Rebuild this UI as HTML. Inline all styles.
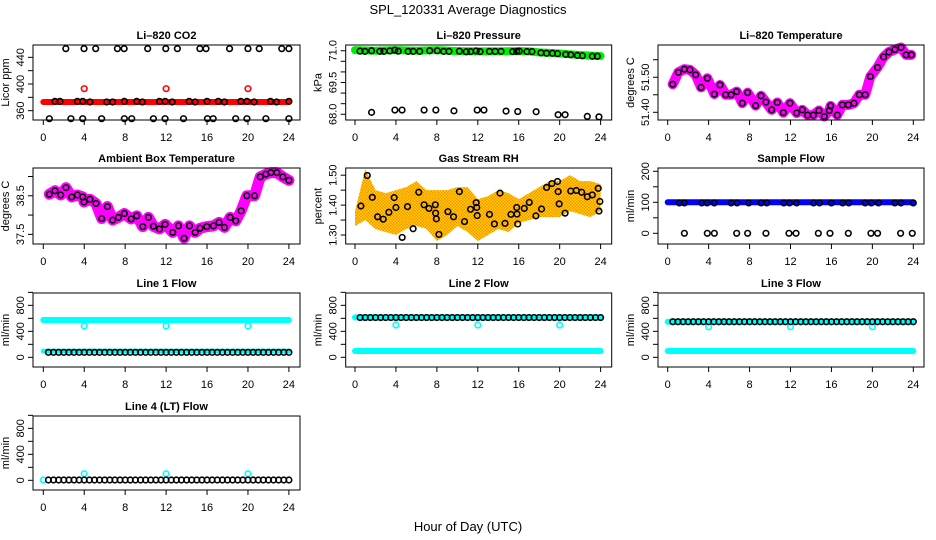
<!DOCTYPE html>
<html><head><meta charset="utf-8"><style>
html,body{margin:0;padding:0;background:#fff;}
svg{display:block;font-family:"Liberation Sans",Arial,sans-serif;}
</style></head><body>
<svg id="chart" width="936" height="540" viewBox="0 0 936 540" xmlns="http://www.w3.org/2000/svg">
<text x="468" y="14" font-size="13" text-anchor="middle">SPL_120331  Average Diagnostics</text>
<text x="468" y="531" font-size="13" text-anchor="middle">Hour of Day (UTC)</text>
</svg>
<script>
// ---- shared x ticks ----
const xTicks = [0,4,8,12,16,20,24];
const flowHours = [0.5,1,1.5,2,2.5,3,3.5,4,4.5,5,5.5,6,6.5,7,7.5,8,8.5,9,9.5,10,10.5,11,11.5,12,12.5,13,13.5,14,14.5,15,15.5,16,16.5,17,17.5,18,18.5,19,19.5,20,20.5,21,21.5,22,22.5,23,23.5,24];
const bandHours = [0,24];
const outlierHours = [4,12,20];

// ---- CO2 ----
const co2BandVals = [373,373];
const co2OutVals = [393,393,393];
const co2MidHours = [1.14,1.63,3.33,3.85,4.56,6.2,6.78,7.92,9.13,9.68,11.35,11.9,12.6,14.25,14.84,16,17.1,17.7,19.3,19.9,20.6,22.2,22.8,24];
const co2MidVals = [374,374,374,374,373,373,373,374,374,373,374,374,373,374,373,374,374,373,374,374,373,374,373,374];
const co2HiHours = [2.2,3.98,5.12,7.24,7.9,10.2,11.97,13.1,15.3,15.9,18.2,20,21.1,23.3,24];
const co2HiVals = [453,453,453,453,453,453,453,453,453,453,453,453,453,453,453];
const co2LoHours = [0.59,2.7,3.85,5.7,7.92,8.64,10.76,11.9,13.7,16.04,16.6,18.8,19.9,21.75,24];
const co2LoVals = [348,348,348,348,348,348,348,348,348,348,348,348,348,348,348];

// ---- Pressure ----
const presBandHours = [0,2,4,6,8,10,12,14,16,17,18,19,20,21,22,23,24];
const presBandVals = [71.03,71.0,71.03,71.0,71.03,70.98,70.97,70.97,70.98,70.97,70.92,70.9,70.87,70.83,70.8,70.77,70.75];
const presHours = [0.49,0.97,1.62,2.43,2.82,3.41,3.89,4.22,5.19,5.68,6.32,7.3,8.04,8.66,9.18,10.2,10.87,11.29,11.84,12.22,13.14,13.69,14.27,15.41,15.8,16.05,16.8,17.29,18.17,18.72,19.3,19.79,20.6,21.08,21.73,22.22,23.19,23.68];
const presVals = [70.98,70.97,71.0,70.97,70.97,70.99,71.03,70.98,70.97,70.97,70.97,71.0,71.0,70.97,70.97,70.98,70.95,70.96,70.99,70.96,70.97,70.97,70.97,70.96,70.97,70.98,70.96,70.96,70.9,70.88,70.88,70.86,70.83,70.81,70.78,70.76,70.74,70.74];
const presLoHours = [1.62,3.9,4.6,6.75,7.9,9.67,11.94,12.6,14.76,15.9,17.7,19.85,20.53,22.7,23.84];
const presLoVals = [68.09,68.2,68.2,68.2,68.2,68.16,68.2,68.2,68.15,68.13,68.12,67.98,67.98,67.9,67.88];

// ---- Li-820 Temperature ----
const tempHours = [0.49,1.04,1.63,2.18,2.74,3.26,3.87,4.56,5.11,5.67,6.19,6.74,7.29,7.81,8.6,9.12,9.6,10.16,10.71,11.3,11.95,12.6,13.15,13.67,14.23,14.78,15.3,15.79,15.92,16.57,17.06,17.65,18.2,18.72,19.3,19.8,20.5,21.1,21.62,22.2,22.8,23.3,23.8];
const tempVals = [51.48,51.514,51.523,51.521,51.507,51.471,51.497,51.452,51.478,51.45,51.45,51.459,51.426,51.456,51.419,51.447,51.429,51.407,51.428,51.399,51.426,51.398,51.407,51.392,51.392,51.405,51.388,51.405,51.418,51.392,51.421,51.421,51.426,51.45,51.45,51.502,51.528,51.558,51.572,51.579,51.585,51.564,51.564];

// ---- Ambient ----
const ambHours = [0.59,1.14,1.7,2.22,2.77,3.33,3.85,3.98,4.56,5.15,5.71,6.26,6.78,7.34,7.92,8.58,9.13,9.72,10.27,10.76,11.35,11.9,12.65,13.21,13.76,14.28,14.84,15.32,15.98,16.63,17.18,17.7,18.26,18.81,19.33,19.89,20.64,21.2,21.75,22.24,22.82,23.41,24];
const ambVals = [38.54,38.63,38.52,38.71,38.47,38.52,38.47,38.34,38.41,38.3,37.91,38.22,37.87,37.94,38.04,37.9,37.98,37.7,37.94,37.71,37.64,37.76,37.55,37.72,37.4,37.72,37.55,37.66,37.7,37.72,37.81,37.68,37.94,37.85,38.11,38.5,38.5,38.99,39.06,39.1,39.1,38.99,38.9];

// ---- RH ----
const rhEnvHours = [0,1,2,3,4,5,6,7,8,9,10,11,12,13,14,15,16,17,18,19,20,21,22,23,24];
const rhUpper = [1.38,1.52,1.45,1.44,1.45,1.46,1.48,1.45,1.45,1.45,1.46,1.46,1.42,1.43,1.45,1.44,1.42,1.44,1.46,1.48,1.48,1.5,1.48,1.48,1.47];
const rhLower = [1.33,1.35,1.32,1.31,1.3,1.32,1.33,1.32,1.28,1.3,1.33,1.31,1.28,1.3,1.32,1.31,1.34,1.35,1.36,1.36,1.36,1.38,1.37,1.36,1.38];
const rhHours = [0.58,1.2,1.69,2.21,2.76,3.31,3.83,4.0,4.61,5.13,5.68,6.23,6.75,7.23,7.85,7.88,7.95,8.2,9.08,9.63,10.2,10.7,11.29,11.84,11.9,11.94,13.14,13.62,14.17,14.66,15.24,15.8,15.83,15.9,16.54,17.03,17.68,18.23,18.72,19.24,19.79,19.85,19.95,20.53,21.08,21.63,22.15,22.7,23.19,23.77,23.84,23.93];
const rhVals = [1.397,1.499,1.426,1.361,1.353,1.376,1.425,1.392,1.292,1.395,1.321,1.443,1.401,1.389,1.401,1.373,1.354,1.302,1.378,1.361,1.445,1.345,1.386,1.408,1.392,1.365,1.369,1.337,1.44,1.339,1.369,1.392,1.37,1.337,1.389,1.409,1.364,1.387,1.459,1.472,1.479,1.445,1.404,1.373,1.447,1.449,1.443,1.428,1.434,1.456,1.38,1.412];

// ---- Sample flow ----
const sfBandVals = [100,100];
const sfMidVals = [98,98,98,98,98,98,98,98,98,98,98,98,98,98,98,98,98,98,98,98,98,98,98,98];
const sfLoHours = [1.63,3.87,4.56,6.74,7.81,9.6,11.85,12.54,14.72,15.86,17.65,19.86,20.51,22.76,23.9];
const sfLoVals = [0,0,0,0,0,0,0,0,0,0,0,0,0,0,0];

// ---- Line flows ----
const l1HiBand = [574,574];
const l1LoBand = [95,95];
const l1Out = [482,482,482];
const l1Black = [77,77,77,77,77,77,77,77,77,77,77,77,77,77,77,77,77,77,77,77,77,77,77,77,77,77,77,77,77,77,77,77,77,77,77,77,77,77,77,77,77,77,77,77,77,77,77,77];
const l2HiBand = [615,615];
const l2LoBand = [97,97];
const l2Out = [497,497,497];
const l2Black = [612,612,612,612,612,612,612,612,612,612,612,612,612,612,612,612,612,612,612,612,612,612,612,612,612,612,612,612,612,612,612,612,612,612,612,612,612,612,612,612,612,612,612,612,612,612,612,612];
const l3HiBand = [548,548];
const l3LoBand = [97,97];
const l3Out = [470,470,470];
const l3Black = [548,548,548,548,548,548,548,548,548,548,548,548,548,548,548,548,548,548,548,548,548,548,548,548,548,548,548,548,548,548,548,548,548,548,548,548,548,548,548,548,548,548,548,548,548,548,548,548];
const l4Out = [101,101,101];
const l4Black = [5,5,5,5,5,5,5,5,5,5,5,5,5,5,5,5,5,5,5,5,5,5,5,5,5,5,5,5,5,5,5,5,5,5,5,5,5,5,5,5,5,5,5,5,5,5,5,5];
const l4Start = [0];
const l4StartVal = [5];

const NS = "http://www.w3.org/2000/svg";
const svg = document.getElementById('chart');
const colL = [33,345.7,658], colR = [300,611.7,924], colX0 = [43.3,355,667.7];
const rowT = [45,168,293,416], rowB = [120,244,367,490];

function mk(tag, attrs, parent){ const e=document.createElementNS(NS,tag); for(const k in attrs) e.setAttribute(k,attrs[k]); (parent||svg).appendChild(e); return e; }

function panel(name, c, r, ymin, ymax, yTicks, yLabels, ytitle){
  const g = mk('g',{});
  
  
  const L=colL[c], R=colR[c], T=rowT[r], B=rowB[r];
  const xs = h => colX0[c] + h*(245.6/24);
  const ys = v => B - (v-ymin)/(ymax-ymin)*(B-T);
  const t = mk('text',{x:(L+R)/2,y:T-6,'font-size':11,'font-weight':'bold','text-anchor':'middle'},g);
  t.textContent = name.title;
  return {g,L,R,T,B,xs,ys,yTicks,yLabels,ytitle};
}

function axes(p, title){
  const g = p.g;
  const ax = mk('g',{},g);
  
  
  mk('line',{x1:p.xs(0),x2:p.xs(24),y1:p.B,y2:p.B,stroke:'#000'},ax);
  xTicks.forEach(h=>{
    mk('line',{x1:p.xs(h),x2:p.xs(h),y1:p.B,y2:p.B+5,stroke:'#000'},ax);
    const tx=mk('text',{x:p.xs(h),y:p.B+21,'font-size':11,'text-anchor':'middle'},ax);
    tx.textContent=h;
  });
  const ay = mk('g',{},g);
  
  
  p.yTicks.forEach((v,i)=>{
    const y=p.ys(v);
    mk('line',{x1:p.L-5,x2:p.L,y1:y,y2:y,stroke:'#000'},ay);
    if(p.yLabels[i]){
      const tx=mk('text',{x:p.L-9,y:y,'font-size':11,'text-anchor':'middle',transform:`rotate(-90 ${p.L-9} ${y})`},ay);
      tx.textContent=p.yLabels[i];
    }
  });
  const yt=mk('text',{x:p.L-24,y:(p.T+p.B)/2,'font-size':11,'text-anchor':'middle',transform:`rotate(-90 ${p.L-24} ${(p.T+p.B)/2})`},g);
  
  
  yt.textContent=p.ytitle;
  const box=mk('rect',{x:p.L,y:p.T,width:p.R-p.L,height:p.B-p.T,fill:'none',stroke:'#000'},g);
  
  
}

function band(p, hs, vs, color, w, nm){
  const d = hs.map((h,i)=>(i?'L':'M')+p.xs(h)+' '+p.ys(vs[i])).join(' ');
  const e = mk('path',{d:d,fill:'none',stroke:color,'stroke-width':w,'stroke-linejoin':'round','stroke-linecap':'round'},p.g);
  
  
}
function pts(p, hs, vs, color, nm, rr, sw){
  const g = mk('g',{},p.g);
  
  
  hs.forEach((h,i)=>{
    const e=mk('circle',{cx:p.xs(h),cy:p.ys(vs[i]),r:rr||2.8,fill:'none',stroke:color,'stroke-width':sw||1.6},g);
    
    
  });
}

// pattern for RH cloud
const defs = mk('defs',{});
const pat = mk('pattern',{id:'rhpat',width:3,height:3,patternUnits:'userSpaceOnUse'},defs);
mk('rect',{width:3,height:3,fill:'#ffd700'},pat);
mk('rect',{x:0,y:0,width:1.5,height:1.5,fill:'#ff8c00'},pat);
mk('rect',{x:1.5,y:1.5,width:1.5,height:1.5,fill:'#ff8c00'},pat);

// Panel 1 CO2
let p = panel({title:'Li–820 CO2'},0,0,346,458.5,[360,380,400,420,440],['360','','400','','440'],'Licor ppm');
band(p,bandHours,co2BandVals,'#ff0000',6,'co2-band');
pts(p,outlierHours,co2OutVals,'#ff0000','co2-outliers');
pts(p,co2MidHours,co2MidVals,'#000','co2-points');
pts(p,co2HiHours,co2HiVals,'#000','co2-high-points');
pts(p,co2LoHours,co2LoVals,'#000','co2-low-points');
axes(p);

// Panel 2 Pressure
p = panel({title:'Li–820 Pressure'},1,0,67.73,71.27,[68,68.5,69,69.5,70,70.5,71],['68.0','','','69.5','','','71.0'],'kPa');
band(p,presBandHours,presBandVals,'#00ee00',8,'pressure-band');
pts(p,presHours,presVals,'#000','pressure-points');
pts(p,presLoHours,presLoVals,'#000','pressure-low-points');
axes(p);

// Panel 3 Temperature
p = panel({title:'Li–820 Temperature'},2,0,51.378,51.592,[51.40,51.45,51.50,51.55],['51.40','','51.50',''],'degrees C');
band(p,tempHours,tempVals,'#ff00ff',10,'temperature-band');
pts(p,tempHours,tempVals,'#000','temperature-points');
axes(p);

// Panel 4 Ambient
p = panel({title:'Ambient Box Temperature'},0,1,37.25,39.22,[37.5,38,38.5,39],['37.5','','38.5',''],'degrees C');
band(p,ambHours,ambVals,'#ff00ff',11,'ambient-band');
pts(p,ambHours,ambVals,'#000','ambient-points');
axes(p);

// Panel 5 RH
p = panel({title:'Gas Stream RH'},1,1,1.27,1.524,[1.30,1.35,1.40,1.45,1.50],['1.30','','1.40','','1.50'],'percent');
{
  const up = rhEnvHours.map((h,i)=>p.xs(h)+' '+p.ys(rhUpper[i]));
  const lo = rhEnvHours.map((h,i)=>p.xs(h)+' '+p.ys(rhLower[i])).reverse();
  const e = mk('path',{d:'M'+up.join(' L')+' L'+lo.join(' L')+'Z',fill:'url(#rhpat)',stroke:'none'},p.g);
  
  
}
pts(p,rhHours,rhVals,'#000','rh-points');
axes(p);

// Panel 6 Sample flow
p = panel({title:'Sample Flow'},2,1,-34.5,210.6,[0,50,100,150,200],['0','','100','','200'],'ml/min');
band(p,bandHours,sfBandVals,'#0000ff',6,'sample-flow-band');
pts(p,co2MidHours,sfMidVals,'#000','sample-flow-points');
pts(p,sfLoHours,sfLoVals,'#000','sample-flow-low-points');
axes(p);

const flowTicks=[0,200,400,600,800,1000], flowLabels=['0','','400','','800',''];
// Line 1
p = panel({title:'Line 1 Flow'},0,2,-149,990,flowTicks,flowLabels,'ml/min');
band(p,bandHours,l1HiBand,'#00ffff',6,'line1-high-band');
band(p,bandHours,l1LoBand,'#00ffff',5,'line1-low-band');
pts(p,outlierHours,l1Out,'#00ffff','line1-outliers');
pts(p,flowHours,l1Black,'#000','line1-points');
axes(p);
// Line 2
p = panel({title:'Line 2 Flow'},1,2,-149,990,flowTicks,flowLabels,'ml/min');
band(p,bandHours,l2HiBand,'#00ffff',6,'line2-high-band');
band(p,bandHours,l2LoBand,'#00ffff',6,'line2-low-band');
pts(p,outlierHours,l2Out,'#00ffff','line2-outliers');
pts(p,flowHours,l2Black,'#000','line2-points');
axes(p);
// Line 3
p = panel({title:'Line 3 Flow'},2,2,-149,990,flowTicks,flowLabels,'ml/min');
band(p,bandHours,l3HiBand,'#00ffff',6,'line3-high-band');
band(p,bandHours,l3LoBand,'#00ffff',6,'line3-low-band');
pts(p,outlierHours,l3Out,'#00ffff','line3-outliers');
pts(p,flowHours,l3Black,'#000','line3-points');
axes(p);
// Line 4
p = panel({title:'Line 4 (LT) Flow'},0,3,-149,990,flowTicks,flowLabels,'ml/min');
pts(p,l4Start,l4StartVal,'#00ffff','line4-start');
pts(p,outlierHours,l4Out,'#00ffff','line4-outliers');
pts(p,flowHours,l4Black,'#000','line4-points');
axes(p);
</script>
</body></html>
